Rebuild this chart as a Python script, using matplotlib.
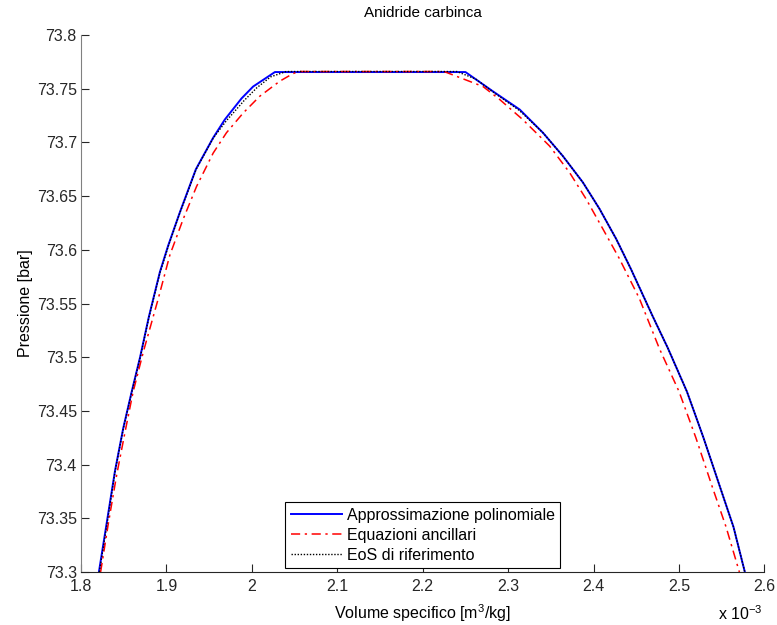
import matplotlib
matplotlib.use("Agg")
from matplotlib import pyplot as plt
from matplotlib.ticker import FixedLocator, FuncFormatter

plt.rcParams['font.family'] = ['Liberation Sans', 'DejaVu Sans']
plt.rcParams['mathtext.fontset'] = 'custom'
plt.rcParams['mathtext.rm'] = 'Liberation Sans'

# Specific volume in units of 1e-3 m3/kg, pressure in bar
poly_v = [1.821, 1.830, 1.8398, 1.8495, 1.8593, 1.8692, 1.8795, 1.8924, 1.9021, 1.9158,
          1.9345, 1.9547, 1.9684, 1.988, 2.0015, 2.027, 2.250, 2.2822, 2.3135, 2.3407,
          2.364, 2.3875, 2.407, 2.4265, 2.4435, 2.4694, 2.487, 2.5092, 2.5286, 2.548,
          2.5637, 2.577]
poly_p = [73.3, 73.345, 73.394, 73.434, 73.4676, 73.5, 73.5377, 73.5794, 73.604, 73.635,
          73.675, 73.7043, 73.7213, 73.741, 73.752, 73.7655, 73.7655, 73.7475, 73.7306, 73.709,
          73.6873, 73.6627, 73.638, 73.61, 73.5824, 73.5377, 73.5083, 73.468, 73.425, 73.379,
          73.342, 73.3]

anc_v = [1.823, 1.832, 1.8417, 1.8515, 1.861, 1.873, 1.8905, 1.904, 1.9197, 1.9353,
         1.9547, 1.9703, 1.99, 2.0093, 2.0327, 2.048, 2.055, 2.225, 2.2706, 2.29,
         2.317, 2.3485, 2.3718, 2.3913, 2.4108, 2.43, 2.4536, 2.477, 2.500, 2.5197,
         2.539, 2.555, 2.5706]
anc_p = [73.3, 73.345, 73.39, 73.43, 73.4676, 73.505, 73.5546, 73.595, 73.6287, 73.659,
         73.69, 73.709, 73.7275, 73.743, 73.757, 73.764, 73.766, 73.766, 73.752, 73.74,
         73.7213, 73.6966, 73.672, 73.6472, 73.6195, 73.592, 73.5546, 73.508, 73.468, 73.425,
         73.379, 73.342, 73.3]

eos_v = [1.8215, 1.8305, 1.840, 1.8497, 1.8595, 1.8694, 1.8797, 1.8927, 1.9025, 1.916,
         1.9348, 1.955, 1.970, 1.991, 2.006, 2.022, 2.040, 2.240, 2.262, 2.284,
         2.3135, 2.3407, 2.364, 2.3875, 2.407, 2.4265, 2.4435, 2.4694, 2.487, 2.5092,
         2.5286, 2.548, 2.5637, 2.577]
eos_p = [73.3, 73.345, 73.394, 73.434, 73.4676, 73.5, 73.5377, 73.5794, 73.604, 73.635,
         73.675, 73.7043, 73.72, 73.739, 73.751, 73.761, 73.766, 73.766, 73.759, 73.746,
         73.7295, 73.709, 73.6873, 73.6627, 73.638, 73.61, 73.5824, 73.5377, 73.5083, 73.468,
         73.425, 73.379, 73.342, 73.3]

labels = ['Approssimazione polinomiale', 'Equazioni ancillari', 'EoS di riferimento']
x_ticks = [1.8, 1.9, 2.0, 2.1, 2.2, 2.3, 2.4, 2.5, 2.6]
y_ticks = [73.3, 73.35, 73.4, 73.45, 73.5, 73.55, 73.6, 73.65, 73.7, 73.75, 73.8]

fig = plt.figure(figsize=(7.77, 6.25), dpi=100)
ax = fig.add_axes([0.1042, 0.0848, 0.8797, 0.8592])

ax.plot(poly_v, poly_p, color='#0000ff', lw=1.4, label=labels[0])
ax.plot(anc_v, anc_p, color='#ff0000', lw=1.1, ls=(0, (6, 3, 1.5, 3)), label=labels[1])
ax.plot(eos_v, eos_p, color='black', lw=1.0, ls=(0, (1, 1.2)), label=labels[2])

ax.set_xlim(1.8, 2.6)
ax.set_ylim(73.3, 73.8)
ax.xaxis.set_major_locator(FixedLocator(x_ticks))
ax.yaxis.set_major_locator(FixedLocator(y_ticks))
fmt = FuncFormatter(lambda v, pos: '%g' % round(v, 4))
ax.xaxis.set_major_formatter(fmt)
ax.yaxis.set_major_formatter(fmt)

for s in ['top', 'right']:
    ax.spines[s].set_visible(False)
ax.spines['left'].set_color('#808080')
ax.spines['bottom'].set_color('#262626')
ax.tick_params(direction='in', length=6, width=0.8, labelsize=11.5, colors='#262626')
ax.tick_params(axis='y', pad=3)
ax.tick_params(axis='x', pad=5)

ax.set_title('Anidride carbinca', fontsize=11, pad=13)
ax.set_ylabel('Pressione [bar]', fontsize=11.5, labelpad=3)
ax.set_xlabel('Volume specifico [m$^3$/kg]', fontsize=11.5, labelpad=6)
fig.text(0.982, 0.004, r'x 10$^{-3}$', fontsize=11.5, ha='right', va='bottom')

leg = ax.legend(loc='lower center', bbox_to_anchor=(0.5, 0.007), borderaxespad=0,
                fancybox=False, framealpha=1, edgecolor='black', fontsize=11.5,
                handlelength=3.2, handletextpad=0.3, labelspacing=0.3, borderpad=0.35)
leg.get_frame().set_linewidth(0.8)

fig.savefig('out.png', dpi=100)
